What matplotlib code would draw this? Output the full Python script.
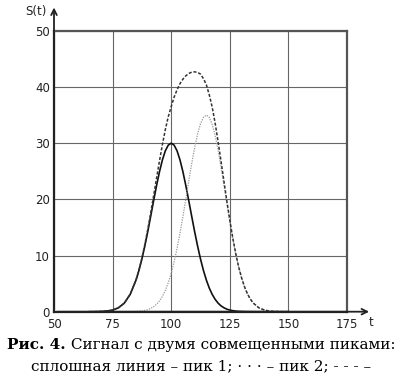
import matplotlib.pyplot as plt

# ---------------------- data ----------------------
t = [65, 67.5, 70, 72.5, 75, 77.5, 80, 82.5, 85,
     86.25, 87.5, 88.75, 90, 91.25, 92.5, 93.75, 95, 96.25, 97.5, 98.75,
     100, 101.25, 102.5, 103.75, 105, 106.25, 107.5, 108.75, 110, 111.25,
     112.5, 113.75, 115, 116.25, 117.5, 118.75, 120, 121.25, 122.5, 123.75,
     125, 126.25, 127.5, 128.75, 130, 131.25, 132.5, 133.75, 135,
     137.5, 140, 142.5, 145, 147.5, 150]

# пик 1 (solid)
peak1 = [0, 0.01, 0.04, 0.11, 0.29, 0.70, 1.53, 3.08, 5.63,
         7.36, 9.39, 11.71, 14.26, 16.98, 19.75, 22.44, 24.91, 27.02, 28.64, 29.65,
         30.0, 29.65, 28.64, 27.02, 24.91, 22.44, 19.75, 16.98, 14.26, 11.71,
         9.39, 7.36, 5.63, 4.21, 3.08, 2.20, 1.53, 1.04, 0.70, 0.45,
         0.29, 0.18, 0.11, 0.06, 0.04, 0.02, 0.01, 0.01, 0,
         0, 0, 0, 0, 0, 0]

# пик 2 (dotted)
peak2 = [0, 0, 0, 0, 0, 0, 0, 0.02, 0.05,
         0.09, 0.14, 0.24, 0.37, 0.58, 0.89, 1.32, 1.92, 2.73, 3.79, 5.15,
         6.84, 8.88, 11.26, 13.97, 16.94, 20.08, 23.27, 26.36, 29.19, 31.61,
         33.45, 34.60, 35.0, 34.58, 33.33, 31.36, 28.79, 25.79, 22.55, 19.24,
         16.02, 13.02, 10.33, 7.99, 6.03, 4.45, 3.20, 2.24, 1.54,
         0.67, 0.26, 0.09, 0.03, 0.01, 0]

# combined signal (dashed)
signal = [0, 0.01, 0.04, 0.11, 0.29, 0.70, 1.53, 3.10, 5.68,
          7.45, 9.53, 11.95, 14.63, 17.56, 20.64, 23.76, 26.83, 29.75, 32.43, 34.7,
          36.5, 38.2, 39.5, 40.6, 41.4, 42.0, 42.4, 42.65, 42.7, 42.6,
          42.3, 41.5, 40.4, 38.6, 36.4, 33.56, 30.3, 26.83, 23.25, 19.69,
          16.31, 13.20, 10.44, 8.05, 6.07, 4.47, 3.21, 2.25, 1.54,
          0.67, 0.26, 0.09, 0.03, 0.01, 0]

xticks = [50, 75, 100, 125, 150, 175]
yticks = [0, 10, 20, 30, 40, 50]

tick_font = ['DejaVu Sans']
serif = ['DejaVu Serif']

# ---------------------- figure ----------------------
fig = plt.figure(figsize=(4.03, 3.76), dpi=100)
ax = fig.add_axes([0.134, 0.171, 0.727, 0.747])

ax.plot(t, peak1, color='#111111', lw=1.2, zorder=3)
ax.plot(t, peak2, color='#999999', lw=0.9, ls=(0, (1, 1)), zorder=3)
ax.plot(t, signal, color='#333333', lw=1.1, ls=(0, (2, 1.2)), zorder=3)

ax.set_xlim(50, 175)
ax.set_ylim(0, 50)
ax.set_xticks(xticks)
ax.set_yticks(yticks)
ax.set_xticklabels([str(v) for v in xticks], family=tick_font, fontsize=8.5, color='#222222')
ax.set_yticklabels([str(v) for v in yticks], family=tick_font, fontsize=8.5, color='#222222')
ax.tick_params(axis='x', length=0, pad=4.5)
ax.tick_params(axis='y', length=0, pad=3)
ax.grid(True, color='#666666', lw=0.8)

for side in ['top', 'right']:
    ax.spines[side].set_color('#555555')
    ax.spines[side].set_linewidth(1.6)
for side in ['left', 'bottom']:
    ax.spines[side].set_color('#222222')
    ax.spines[side].set_linewidth(1.6)

# axis arrows
ax.annotate('', xy=(0, 1.093), xytext=(0, 0), xycoords='axes fraction',
            arrowprops=dict(arrowstyle='->', color='#222222', lw=1.3), annotation_clip=False)
ax.annotate('', xy=(1.085, 0), xytext=(0, 0), xycoords='axes fraction',
            arrowprops=dict(arrowstyle='->', color='#222222', lw=1.3), annotation_clip=False)
ax.text(-0.06, 1.068, 'S(t)', transform=ax.transAxes, ha='center', va='center',
        family=tick_font, fontsize=8.5, color='#222222')
ax.text(1.082, -0.04, 't', transform=ax.transAxes, ha='center', va='center',
        family=tick_font, fontsize=8.5, color='#222222')

# caption
fig.canvas.draw()
renderer = fig.canvas.get_renderer()
bold = fig.text(0, 0, 'Рис. 4.', family=serif, fontsize=11, fontweight='bold')
rest = fig.text(0, 0, ' Сигнал с двумя совмещенными пиками:', family=serif, fontsize=11)
wb = bold.get_window_extent(renderer).width
wr = rest.get_window_extent(renderer).width
W = fig.bbox.width
x0 = (W - wb - wr) / 2 / W
y1 = 1 - 345 / 376
bold.set_position((x0, y1))
bold.set_va('center')
rest.set_position((x0 + wb / W, y1))
rest.set_va('center')
fig.text(0.5, 1 - 366 / 376, 'сплошная линия – пик 1; · · · – пик 2; - - - –',
         family=serif, fontsize=11, ha='center', va='center')

fig.savefig('out.png', dpi=100)
